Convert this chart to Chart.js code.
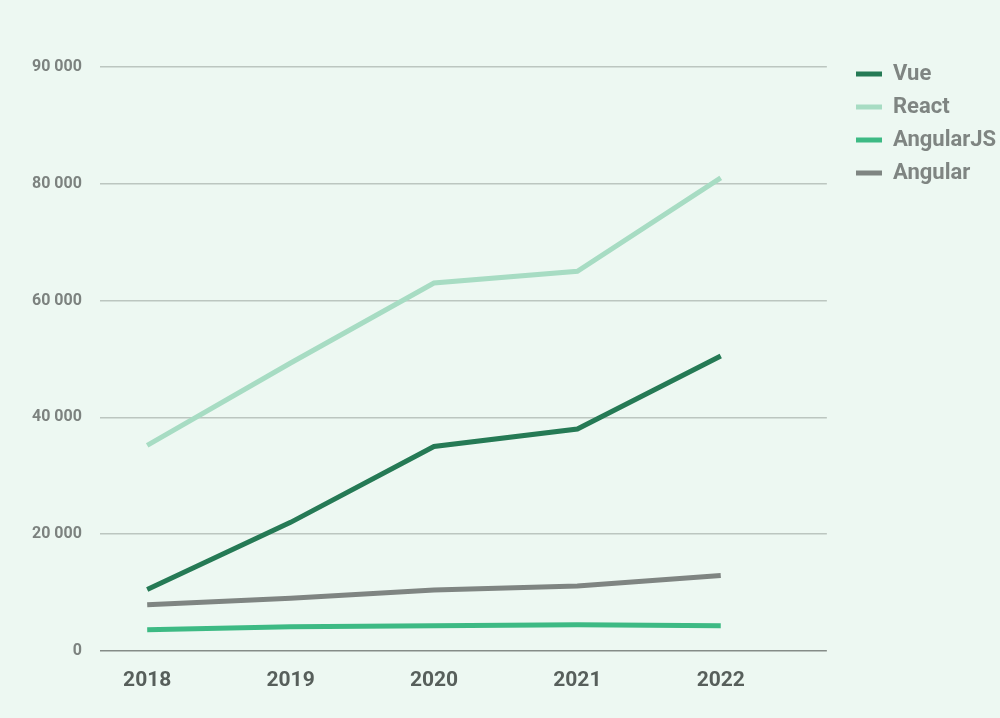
<!DOCTYPE html>
<html>
<head>
<meta charset="utf-8">
<script src="https://cdn.jsdelivr.net/npm/chart.js@4"></script>
<style>
  html, body { margin: 0; padding: 0; background: #edf8f2; }
  #wrap { width: 1000px; height: 718px; }
</style>
</head>
<body>
<div id="wrap"><canvas id="myChart" width="1000" height="718"></canvas></div>
<script>
// years on the x axis
const years = [2018, 2019, 2020, 2021, 2022];

// series values
const vue = [10500, 22000, 35000, 38000, 50500];
const react = [35200, 49300, 63000, 65000, 81000];
const angularJS = [3600, 4100, 4300, 4450, 4300];
const angular = [7900, 9000, 10400, 11100, 12900];

// y tick values and the labels shown for them
const yTicks = [0, 20000, 40000, 60000, 80000, 100000];
const yTickLabels = ['0', '20 000', '40 000', '60 000', '80 000', '90 000'];

const colors = {
  vue: '#257a55',
  react: '#a7dcc3',
  angularJS: '#3dba84',
  angular: '#7f8582'
};

function pts(arr) {
  return arr.map((v, i) => ({ x: years[i], y: v }));
}

function ds(label, arr, color) {
  return {
    label: label,
    data: pts(arr),
    borderColor: color,
    backgroundColor: color,
    borderWidth: 5,
    pointRadius: 0,
    tension: 0,
    borderCapStyle: 'butt'
  };
}

const data = {
  datasets: [
    ds('Vue', vue, colors.vue),
    ds('React', react, colors.react),
    ds('AngularJS', angularJS, colors.angularJS),
    ds('Angular', angular, colors.angular)
  ]
};

// nudge the legend a bit right and up, away from the plot
const legendShift = {
  id: 'legendShift',
  afterLayout(chart) {
    const lg = chart.legend;
    const dx = 858 - 13 - lg.left;
    const dy = -15;
    lg.left += dx; lg.right += dx;
    lg.top += dy; lg.bottom += dy;
    if (lg.legendHitBoxes) {
      lg.legendHitBoxes.forEach(b => { b.left += dx; b.top += dy; });
    }
  }
};

const config = {
  type: 'line',
  data: data,
  plugins: [legendShift],
  options: {
    responsive: false,
    animation: false,
    layout: { padding: { top: 67, left: 14, right: 12, bottom: 8 } },
    plugins: {
      tooltip: { enabled: false },
      legend: {
        position: 'right',
        align: 'start',
        labels: {
          boxWidth: 26,
          boxHeight: 5,
          padding: 11,
          color: '#7f8582',
          font: { family: 'Roboto', size: 22, weight: 'bold' },
          generateLabels: function (chart) {
            const items = Chart.defaults.plugins.legend.labels.generateLabels(chart);
            items.forEach(it => { it.lineWidth = 0; });
            return items;
          }
        }
      }
    },
    scales: {
      x: {
        type: 'linear',
        min: 2017.67,
        max: 2022.74,
        afterBuildTicks: function (axis) {
          axis.ticks = years.map(v => ({ value: v }));
        },
        grid: { display: false, drawTicks: false },
        border: { display: false },
        ticks: {
          padding: 17,
          color: '#575f5b',
          font: { family: 'Roboto', size: 21, weight: 'bold' },
          callback: v => String(v)
        }
      },
      y: {
        min: 0,
        max: 100000,
        afterBuildTicks: function (axis) {
          axis.ticks = yTicks.map(v => ({ value: v }));
        },
        grid: {
          drawTicks: false,
          lineWidth: 1.5,
          color: ctx => ctx.tick && ctx.tick.value === 0 ? '#858c88' : '#bcc6c0'
        },
        border: { display: false },
        ticks: {
          padding: 18,
          color: '#7c827f',
          font: { family: 'Roboto', size: 16, weight: 'bold' },
          callback: function (v) {
            const i = yTicks.indexOf(v);
            return i >= 0 ? yTickLabels[i] : '';
          }
        }
      }
    }
  }
};

const myChart = new Chart(document.getElementById('myChart'), config);
</script>
</body>
</html>
